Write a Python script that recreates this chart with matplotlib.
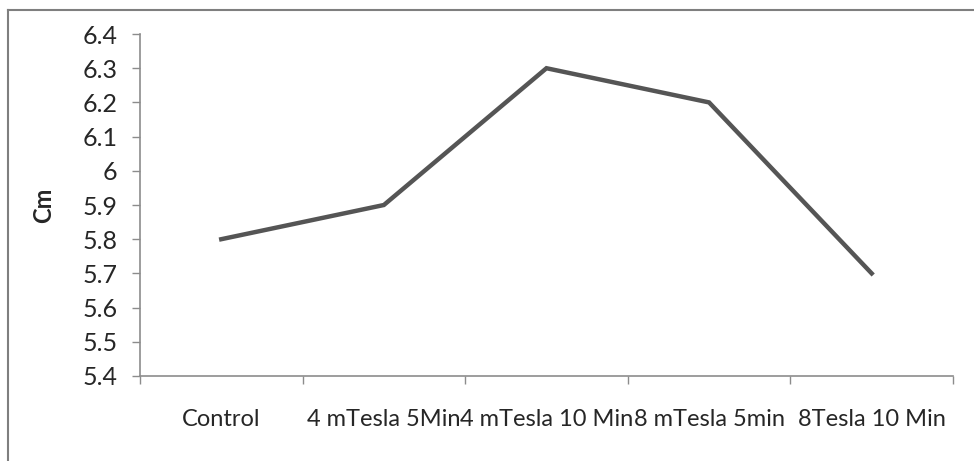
import matplotlib
matplotlib.use("Agg")
import matplotlib.pyplot as plt
from matplotlib.lines import Line2D

categories = ["Control", "4 mTesla 5Min", "4 mTesla 10 Min", "8 mTesla 5min", "8Tesla 10 Min"]
cm_values = [5.8, 5.9, 6.3, 6.2, 5.7]
y_ticks = [5.4, 5.5, 5.6, 5.7, 5.8, 5.9, 6.0, 6.1, 6.2, 6.3, 6.4]
y_tick_labels = ["5.4", "5.5", "5.6", "5.7", "5.8", "5.9", "6", "6.1", "6.2", "6.3", "6.4"]

plt.rcParams["font.family"] = ["Lato", "DejaVu Sans"]

fig = plt.figure(figsize=(9.74, 4.61), dpi=100)
ax = fig.add_axes([0.1437, 0.1844, 0.8347, 0.7418])

x = list(range(len(categories)))
ax.plot(x, cm_values, color="#555555", linewidth=3.2, solid_joinstyle="miter")

ax.set_xlim(-0.5, len(categories) - 0.5)
ax.set_ylim(5.4, 6.4)
ax.set_yticks(y_ticks)
ax.set_yticklabels(y_tick_labels)
ax.set_xticks(x)
ax.set_xticklabels(categories)
ax.set_xticks([i - 0.5 for i in range(len(categories) + 1)], minor=True)

axis_grey = "#8c8c8c"
for side in ("top", "right"):
    ax.spines[side].set_visible(False)
for side in ("left", "bottom"):
    ax.spines[side].set_color(axis_grey)
    ax.spines[side].set_linewidth(1.2)

ax.tick_params(axis="y", direction="out", length=6, width=1.0, color=axis_grey,
               labelsize=18, labelcolor="#262626", pad=10)
ax.tick_params(axis="x", which="major", length=0, labelsize=17, labelcolor="#262626", pad=24)
ax.tick_params(axis="x", which="minor", direction="out", length=6, width=1.0, color=axis_grey)

ax.set_ylabel("Cm", fontsize=17, fontweight="bold", color="#262626", labelpad=20)

# frame lines along the top and left of the figure
fig.add_artist(Line2D([8 / 974, 1.0], [1 - 10 / 461, 1 - 10 / 461],
                      transform=fig.transFigure, color="#7f7f7f", linewidth=1.5))
fig.add_artist(Line2D([8 / 974, 8 / 974], [0.0, 1 - 10 / 461],
                      transform=fig.transFigure, color="#7f7f7f", linewidth=1.5))

fig.savefig("out.png", dpi=100)
